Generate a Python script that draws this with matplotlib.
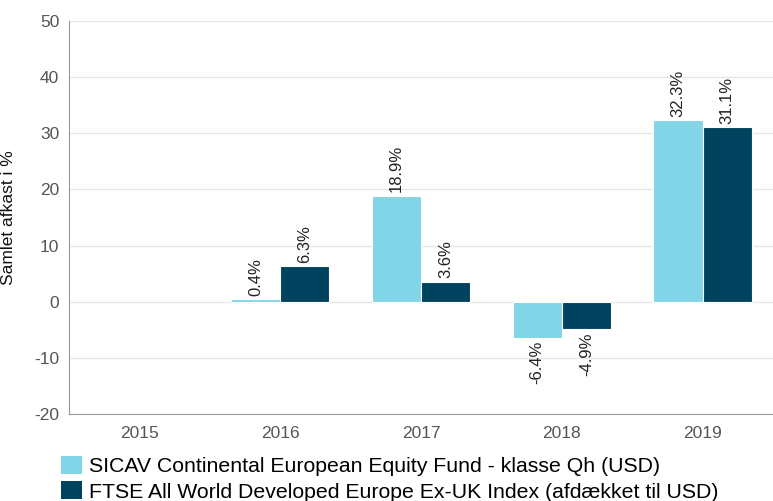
import numpy as np
import matplotlib.pyplot as plt
from matplotlib.patches import Patch

plt.rcParams['font.family'] = ['Liberation Sans', 'DejaVu Sans']
plt.rcParams['axes.unicode_minus'] = False

years = ['2015', '2016', '2017', '2018', '2019']
fund = [np.nan, 0.4, 18.9, -6.4, 32.3]
index = [np.nan, 6.3, 3.6, -4.9, 31.1]
fund_name = 'SICAV Continental European Equity Fund - klasse Qh (USD)'
index_name = 'FTSE All World Developed Europe Ex-UK Index (afdækket til USD)'

light = '#82d5e7'
dark = '#00435f'

fig = plt.figure(figsize=(7.73, 5.01), dpi=100)
ax = fig.add_axes([69 / 773, 1 - 414 / 501, 704 / 773, 393 / 501])

x = np.arange(len(years))
w = 0.35
b1 = ax.bar(x - w / 2, fund, w, color=light, edgecolor='white', linewidth=0.8, zorder=3)
b2 = ax.bar(x + w / 2, index, w, color=dark, edgecolor='white', linewidth=0.8, zorder=3)

for bars, vals in ((b1, fund), (b2, index)):
    for rect, v in zip(bars, vals):
        if np.isnan(v):
            continue
        cx = rect.get_x() + rect.get_width() / 2
        if v >= 0:
            ax.text(cx, v + 0.6, f'{v:.1f}%', rotation=90, ha='center', va='bottom',
                    fontsize=12, color='#222222')
        else:
            ax.text(cx, v - 0.6, f'{v:.1f}%', rotation=90, ha='center', va='top',
                    fontsize=12, color='#222222')

ax.set_xlim(-0.5, 4.5)
ax.set_ylim(-20, 50)
ax.set_yticks(range(-20, 51, 10))
ax.set_xticks(x)
ax.set_xticklabels(years)
ax.tick_params(length=0, labelsize=12.5, labelcolor='#555555', pad=7)
ax.tick_params(axis='x', pad=9)
ax.yaxis.grid(True, color='#e6e6e6', linewidth=1, zorder=0)
ax.set_axisbelow(True)
for s in ('top', 'right'):
    ax.spines[s].set_visible(False)
ax.spines['left'].set_color('#999999')
ax.spines['bottom'].set_color('#999999')
ax.set_ylabel('Samlet afkast i %', fontsize=12.5, color='#111111')
ax.yaxis.set_label_coords(-53 / 704, 0.5)

handles = [Patch(facecolor=light), Patch(facecolor=dark)]
fig.legend(handles, [fund_name, index_name], loc='upper left',
           bbox_to_anchor=(61 / 773, 1 - 456 / 501), frameon=False, fontsize=15.3,
           handlelength=1.0, handleheight=0.95, handletextpad=0.33, labelspacing=0.22,
           borderpad=0, borderaxespad=0)

fig.savefig('out.png', dpi=100)
